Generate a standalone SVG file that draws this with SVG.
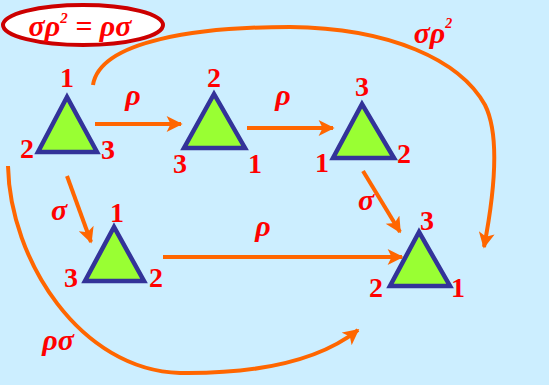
<svg xmlns="http://www.w3.org/2000/svg" width="549" height="385" viewBox="0 0 549 385">
<defs>
<marker id="ah" viewBox="0 0 10 10" refX="9" refY="5" markerWidth="4.2" markerHeight="4" orient="auto" markerUnits="strokeWidth">
<path d="M0,0 L10,5 L0,10 L2.5,5 Z" fill="#ff6600"/>
</marker>
<style>
.tri{fill:#99ff33;stroke:#333399;stroke-width:4.5;stroke-linejoin:miter}
.num{font-family:"Liberation Serif",serif;font-weight:bold;font-size:28px;fill:#ff0000;text-anchor:middle}
.gr{font-family:"Liberation Serif",serif;font-style:italic;font-weight:bold;font-size:30px;fill:#ff0000;text-anchor:middle}
.arr{fill:none;stroke:#ff6600;stroke-width:4;marker-end:url(#ah)}
</style>
</defs>
<rect width="549" height="385" fill="#cceeff"/>
<g id="title">
<ellipse cx="83" cy="25" rx="80" ry="20" fill="#ffffff" stroke="#cc0000" stroke-width="4"/>
<text x="80" y="36" class="gr" font-size="30">σρ<tspan font-size="15" dy="-13">2</tspan><tspan dy="13"> = ρσ</tspan></text>
</g>
<g id="connectors">
<line class="arr" x1="95" y1="124" x2="181" y2="124"/>
<line class="arr" x1="247" y1="128" x2="333" y2="128"/>
<line class="arr" x1="67" y1="176" x2="91" y2="242"/>
<line class="arr" x1="363" y1="171" x2="400" y2="232"/>
<line class="arr" x1="163" y1="257" x2="402" y2="257"/>
<path class="arr" d="M93,85 C100,40 200,27 290,27 C390,28 460,60 485,105 C500,135 495,190 484,247"/>
<path class="arr" d="M8,166 C10,260 80,370 180,373 C260,374 320,360 358,330"/>
<text x="133" y="105" class="gr">ρ</text>
<text x="283" y="105" class="gr">ρ</text>
<text x="263" y="236" class="gr">ρ</text>
<text x="59" y="220" class="gr">σ</text>
<text x="366" y="210" class="gr">σ</text>
<text x="433" y="43" class="gr">σρ<tspan font-size="14" dy="-15">2</tspan></text>
<text x="58" y="350" class="gr">ρσ</text>
</g>
<g id="t1">
<polygon class="tri" points="67,97 38,152 97,152"/>
<text x="67" y="87" class="num">1</text>
<text x="27" y="158" class="num">2</text>
<text x="108" y="159" class="num">3</text>
</g>
<g id="t2">
<polygon class="tri" points="214,94 184,148 245,148"/>
<text x="214" y="87" class="num">2</text>
<text x="180" y="173" class="num">3</text>
<text x="255" y="173" class="num">1</text>
</g>
<g id="t3">
<polygon class="tri" points="362,104 333,158 394,158"/>
<text x="362" y="96" class="num">3</text>
<text x="404" y="163" class="num">2</text>
<text x="322" y="172" class="num">1</text>
</g>
<g id="t4">
<polygon class="tri" points="114,227 85,281 144,281"/>
<text x="117" y="222" class="num">1</text>
<text x="71" y="287" class="num">3</text>
<text x="156" y="287" class="num">2</text>
</g>
<g id="t5">
<polygon class="tri" points="419,232 390,286 450,286"/>
<text x="427" y="230" class="num">3</text>
<text x="376" y="297" class="num">2</text>
<text x="458" y="297" class="num">1</text>
</g>
</svg>
